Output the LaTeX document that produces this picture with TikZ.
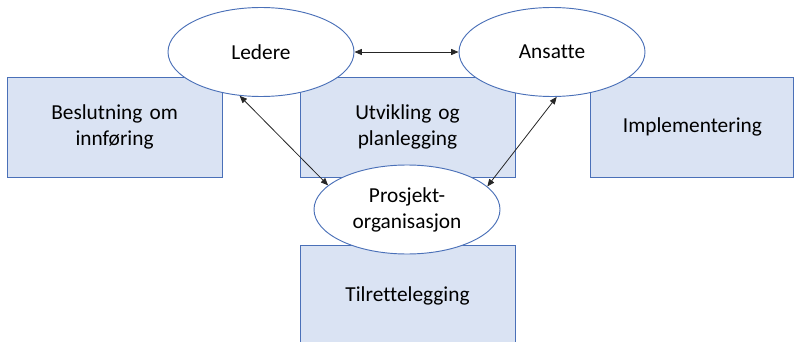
\documentclass[tikz,border=0pt]{standalone}
\usepackage{fontspec}
\setmainfont{Carlito}[Ligatures=NoCommon]
\usepackage{tikz}
\usetikzlibrary{shapes.geometric, arrows.meta, calc, positioning}
\definecolor{boxfill}{HTML}{DAE3F3}
\definecolor{boxline}{HTML}{4A70B8}
\tikzstyle{phase} = [rectangle, line width=0.7pt, minimum width=161.25pt, minimum height=75pt, text width=145pt, inner sep=0pt, text centered, draw=boxline, fill=boxfill, font=\fontsize{16}{19.5}\selectfont]
\tikzstyle{actor} = [ellipse, line width=0.7pt, minimum width=139.5pt, minimum height=66.75pt, inner sep=0pt, align=center, draw=boxline, fill=white, font=\fontsize{16}{19.5}\selectfont]
\tikzstyle{arrow} = [line width=0.6pt,draw=black!85,{Triangle[length=5.5pt,width=4.5pt]}-{Triangle[length=5.5pt,width=4.5pt]}]

\begin{document}
\begin{tikzpicture}[x=0.75pt, y=-0.75pt, node distance = 10mm, auto]
		\useasboundingbox (0,0) rectangle (795,342);
		\clip (0,0) rectangle (795,342);

		\node (Utvikling) [phase] at (407.5,127) {Utvikling og\\planlegging};
		\node (Beslutning) [phase, left = 57.75pt of Utvikling] {Beslutning om\\innføring};
		\node (Implementering) [phase, minimum width=152.25pt, right = 56.25pt of Utvikling] {Implementering};
		\node (Tilrettelegging) [phase, below = 51pt of Utvikling] {Tilrettelegging};

		\node (Ledere) [actor] at (261,52) {Ledere};
		\node (Ansatte) [actor] at (552,52) {Ansatte};
		\node (Prosjekt) [actor] at (407,209.5) {Prosjekt-\\organisasjon};

		\draw [arrow] (Ledere) -- (Ansatte);
		\draw [arrow] (Ledere.244) -- (Prosjekt.163);
		\draw [arrow] (Ansatte.276) -- (Prosjekt.16);
\end{tikzpicture}
\end{document}
